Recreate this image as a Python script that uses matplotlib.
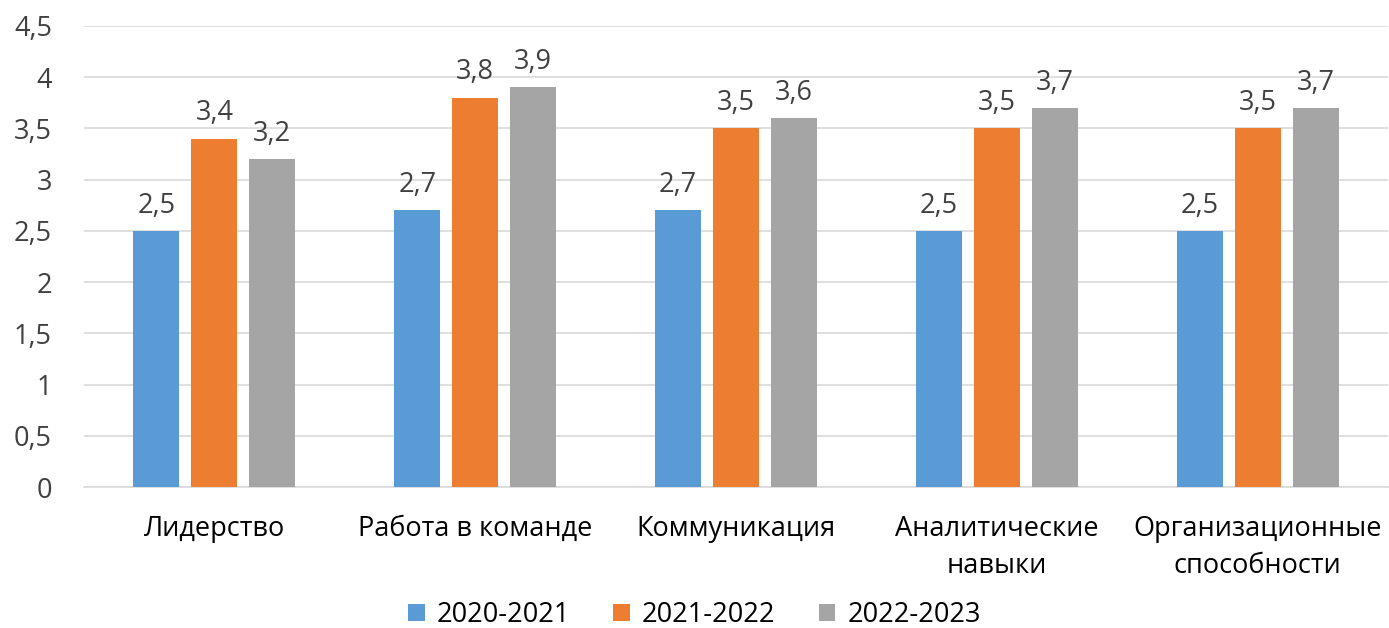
import matplotlib
matplotlib.use("Agg")
import matplotlib.pyplot as plt
import numpy as np

categories = ["Лидерство", "Работа в команде", "Коммуникация", "Аналитические\nнавыки", "Организационные\nспособности"]
series_names = ["2020-2021", "2021-2022", "2022-2023"]
v2020 = [2.5, 2.7, 2.7, 2.5, 2.5]
v2021 = [3.4, 3.8, 3.5, 3.5, 3.5]
v2022 = [3.2, 3.9, 3.6, 3.7, 3.7]
colors = ["#5B9BD5", "#ED7D31", "#A5A5A5"]
yticks = [0, 0.5, 1, 1.5, 2, 2.5, 3, 3.5, 4, 4.5]
ytick_labels = ["0", "0,5", "1", "1,5", "2", "2,5", "3", "3,5", "4", "4,5"]

plt.rcParams['font.family'] = ['Open Sans', 'DejaVu Sans']
fig = plt.figure(figsize=(13.89, 6.28), dpi=100)
ax = fig.add_axes([84/1389, 1 - 487/628, (1388-84)/1389, (487-26)/628])

x = np.arange(len(categories))
w = 46/261
step = 58/261
txt = "#404040"
fs = 19.5
for i, (vals, name, c) in enumerate(zip([v2020, v2021, v2022], series_names, colors)):
    pos = x + (i - 1) * step
    ax.bar(pos, vals, width=w, color=c, label=name, zorder=3)
    for p, v in zip(pos, vals):
        ax.text(p, v + 0.11, f"{v:.1f}".replace(".", ","), ha="center", va="bottom",
                fontsize=fs, color=txt)

ax.set_xlim(-0.5, len(categories) - 0.5)
ax.set_ylim(0, 4.5)
ax.set_yticks(yticks)
ax.set_yticklabels(ytick_labels, fontsize=fs, color=txt)
ax.set_xticks(x)
ax.set_xticklabels(categories, fontsize=fs, color="#000000", linespacing=1.45)
ax.tick_params(axis="both", length=0)
ax.tick_params(axis="y", pad=23)
ax.tick_params(axis="x", pad=20)
ax.grid(axis="y", color="#D9D9D9", linewidth=1.2, zorder=0)
for s in ["top", "right", "left"]:
    ax.spines[s].set_visible(False)
ax.spines["bottom"].set_color("#D9D9D9")
ax.spines["bottom"].set_linewidth(1.2)

fig.legend(loc="lower center", ncol=3, frameon=False, fontsize=fs,
           bbox_to_anchor=(0.5, -0.04), handlelength=0.6, handleheight=0.6,
           columnspacing=1.6, handletextpad=0.45)
fig.savefig("out.png", dpi=100)
